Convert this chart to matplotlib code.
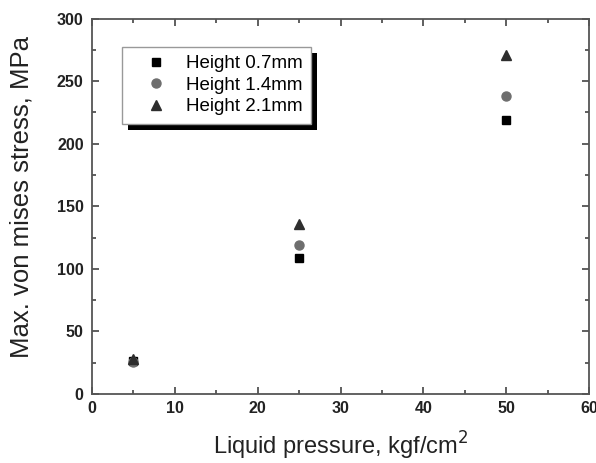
import matplotlib
matplotlib.use("Agg")
import matplotlib.pyplot as plt
from matplotlib.ticker import MultipleLocator
from matplotlib.patches import Rectangle

plt.rcParams['font.family'] = ['Liberation Sans', 'DejaVu Sans']

pressure = [5, 25, 50]
h07 = [26, 109, 219]
h14 = [25.5, 119, 238]
h21 = [28, 136, 271]
labels = ["Height 0.7mm", "Height 1.4mm", "Height 2.1mm"]

fig = plt.figure(figsize=(5.96, 4.63), dpi=100)
ax = fig.add_axes([0.1544, 0.149, 0.834, 0.811])

ax.plot(pressure, h07, 's', color='black', ms=6, label=labels[0], zorder=3)
ax.plot(pressure, h14, 'o', color='#6e6e6e', ms=6.5, label=labels[1], zorder=3)
ax.plot(pressure, h21, '^', color='#2e2e2e', ms=7.5, label=labels[2], zorder=4)

ax.set_xlim(0, 60)
ax.set_ylim(0, 300)
ax.xaxis.set_major_locator(MultipleLocator(10))
ax.xaxis.set_minor_locator(MultipleLocator(5))
ax.yaxis.set_major_locator(MultipleLocator(50))
ax.yaxis.set_minor_locator(MultipleLocator(25))
ax.tick_params(which='both', direction='in', top=True, right=True, width=1.2, color='#444444')
ax.tick_params(which='major', length=5, labelsize=11.5)
ax.tick_params(which='minor', length=3)
ax.tick_params(axis='x', which='major', pad=5)
ax.tick_params(axis='y', which='major', pad=6)
for lab in ax.get_xticklabels() + ax.get_yticklabels():
    lab.set_fontweight('bold')
    lab.set_color('#222222')
for sp in ax.spines.values():
    sp.set_linewidth(1.3)
    sp.set_color('#555555')

ax.set_xlabel("Liquid pressure, kgf/cm$^2$", fontsize=17, labelpad=10, color='#222222')
ax.set_ylabel("Max. von mises stress, MPa", fontsize=18.5, color='#222222')
ax.yaxis.set_label_coords(-0.118, 0.526)

legend_kw = dict(fontsize=13.5, frameon=True, fancybox=False, shadow=False,
                 borderpad=0.45, borderaxespad=0, handletextpad=0.25,
                 labelspacing=0.24, handlelength=2.7)

# place the legend, then draw an offset shadow behind it
leg = ax.legend(loc='upper left', bbox_to_anchor=(0.060, 0.925), **legend_kw)
fig.canvas.draw()
bb = leg.get_window_extent().transformed(fig.transFigure.inverted())
leg.remove()

dx, dy = 6 / 596, 6 / 463
fig.patches.append(Rectangle((bb.x0 + dx, bb.y0 - dy), bb.width, bb.height,
                             transform=fig.transFigure, facecolor='black',
                             edgecolor='none', zorder=9))
leg2 = fig.legend(*ax.get_legend_handles_labels(), loc='upper left',
                  bbox_to_anchor=(bb.x0, bb.y1), **legend_kw)
leg2.get_frame().set_edgecolor('#999999')
leg2.get_frame().set_linewidth(1.0)
leg2.get_frame().set_alpha(1.0)
leg2.set_zorder(20)

fig.savefig("out.png", dpi=100)
